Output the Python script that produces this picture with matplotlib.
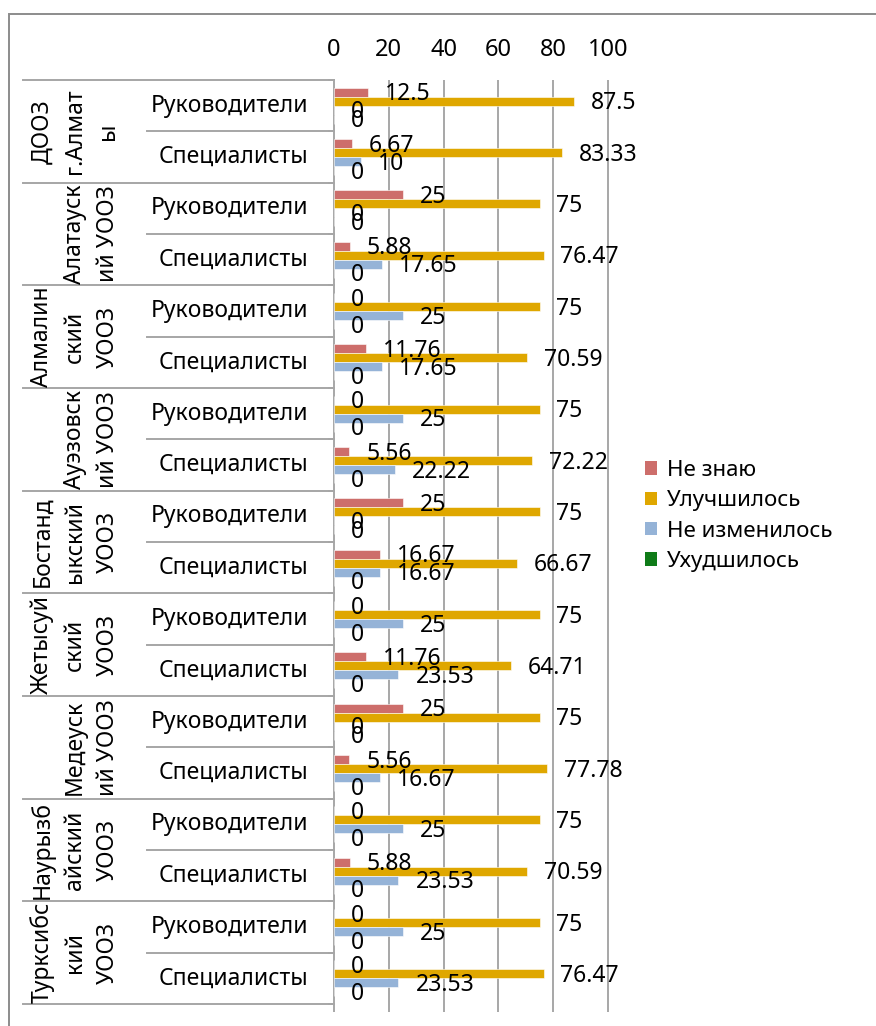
import numpy as np
import matplotlib

matplotlib.use("Agg")
import matplotlib.pyplot as plt  # noqa: E402
from matplotlib import transforms  # noqa: E402
from matplotlib.patches import Patch, Rectangle  # noqa: E402

plt.rcParams["font.family"] = ["Noto Sans", "DejaVu Sans"]

# органы управления (по 2 строки на каждый: руководители / специалисты)
groups = [
    ["ДООЗ", "г.Алмат", "ы"],
    ["", "Алатауск", "ий УООЗ"],
    ["Алмалин", "ский", "УООЗ"],
    ["", "Ауэзовск", "ий УООЗ"],
    ["Бостанд", "ыкский", "УООЗ"],
    ["Жетысуй", "ский", "УООЗ"],
    ["", "Медеуск", "ий УООЗ"],
    ["Наурызб", "айский", "УООЗ"],
    ["Турксибс", "кий", "УООЗ"],
]
roles = ["Руководители", "Специалисты"]

series_names = ["Не знаю", "Улучшилось", "Не изменилось", "Ухудшилось"]
ne_znayu = [12.5, 6.67, 25, 5.88, 0, 11.76, 0, 5.56, 25, 16.67,
            0, 11.76, 25, 5.56, 0, 5.88, 0, 0]
uluchshilos = [87.5, 83.33, 75, 76.47, 75, 70.59, 75, 72.22, 75, 66.67,
               75, 64.71, 75, 77.78, 75, 70.59, 75, 76.47]
ne_izmenilos = [0, 10, 0, 17.65, 25, 17.65, 25, 22.22, 0, 16.67,
                25, 23.53, 0, 16.67, 25, 23.53, 25, 23.53]
ukhudshilos = [0] * 18
colors = ["#CD6E6B", "#DFA700", "#95B3D7", "#0F7B18"]

W, H = 876, 1026
fig = plt.figure(figsize=(W / 100, H / 100), dpi=100)
ax = fig.add_axes([334 / W, 1 - 1004 / H, (608 - 334) / W, (1004 - 80) / H])

n = len(ne_znayu)
rows = np.arange(n)
bar_h = 0.175
offsets = [0.2375, 0.4125, 0.5875, 0.7625]
data = [ne_znayu, uluchshilos, ne_izmenilos, ukhudshilos]

for vals, off, col in zip(data, offsets, colors):
    ax.barh(rows + off, vals, height=bar_h, color=col, edgecolor="white",
            linewidth=0.4, zorder=3)
    for r, v in zip(rows, vals):
        ax.annotate(f"{v:g}", xy=(v, r + off), xytext=(12.2, -1.5),
                    textcoords="offset points", ha="left", va="center",
                    fontsize=16.5, zorder=4, annotation_clip=False)

ax.set_xlim(0, 100)
ax.set_ylim(n, 0)
ax.set_yticks([])
ax.xaxis.tick_top()
ax.set_xticks(np.arange(0, 101, 20))
ax.tick_params(axis="x", length=0, pad=13, labelsize=17)
for s in ax.spines.values():
    s.set_visible(False)

grid_kw = dict(color="#A0A0A0", lw=1.3, zorder=1)
ax.vlines(np.arange(0, 101, 20), 0, n + 8 / 51.33, clip_on=False, **grid_kw)

# таблица категорий слева от оси
blend = transforms.blended_transform_factory(fig.transFigure, ax.transData)
line_kw = dict(color="#A6A6A6", lw=1.4, transform=blend, clip_on=False)
for r in range(n + 1):
    x0 = 23 if r % 2 == 0 else 147
    ax.plot([x0 / W, 334 / W], [r, r], **line_kw)
    ax.plot([329 / W, 334 / W], [r, r], **line_kw)

for r in rows:
    ax.text(308 / W, r + 0.5, roles[r % 2], transform=blend, ha="right",
            va="center", fontsize=16.5)

col_x = [42, 75, 108]
for g, lines in enumerate(groups):
    for x, txt in zip(col_x, lines):
        if txt:
            ax.text(x / W, 2 * g + 1, txt, transform=blend, rotation=90,
                    ha="center", va="center", fontsize=16.5)

handles = [Patch(facecolor=c, edgecolor="none") for c in colors]
fig.legend(handles, series_names, loc="upper left",
           bbox_to_anchor=(636 / W, 1 - 451 / H), frameon=False,
           fontsize=16, handlelength=0.55, handleheight=0.55,
           handletextpad=0.45, labelspacing=0.42, borderaxespad=0)

# рамка области диаграммы
fig.add_artist(Rectangle((9 / W, -0.1), 1.2, 1 - 14 / H + 0.1,
                         transform=fig.transFigure, fill=False,
                         edgecolor="#8C8C8C", lw=1.4))

fig.savefig("out.png", dpi=100)
